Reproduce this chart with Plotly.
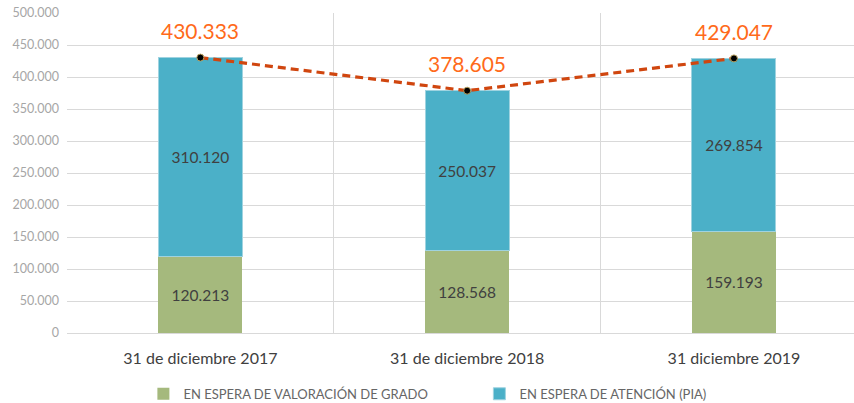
import plotly.graph_objects as go

categories = ["31 de diciembre 2017", "31 de diciembre 2018", "31 diciembre 2019"]
valoracion = [120213, 128568, 159193]
atencion = [310120, 250037, 269854]
totales = [430333, 378605, 429047]
total_labels = ["430.333", "378.605", "429.047"]
y_ticks = [0, 50000, 100000, 150000, 200000, 250000, 300000, 350000, 400000, 450000, 500000]

FONT = "Lato"

fig = go.Figure()
fig.add_trace(go.Bar(
    x=categories, y=valoracion, name="EN ESPERA DE VALORACIÓN DE GRADO",
    marker=dict(color="#A5B97D", line=dict(width=0)), width=0.315,
    texttemplate="%{y:,d}", textposition="inside", insidetextanchor="middle",
    textfont=dict(family=FONT, size=15.5, color="#404040"),
))
fig.add_trace(go.Bar(
    x=categories, y=atencion, name="EN ESPERA DE ATENCIÓN (PIA)",
    marker=dict(color="#4BB0C8", line=dict(width=1, color="#9fd3e0")), width=0.315,
    texttemplate="%{y:,d}", textposition="inside", insidetextanchor="middle",
    textfont=dict(family=FONT, size=15.5, color="#404040"),
))
fig.add_trace(go.Scatter(
    x=categories, y=totales, mode="lines+markers", showlegend=False,
    line=dict(color="#D0460F", width=3.2, dash="8px,5px"),
    marker=dict(color="black", size=7, line=dict(color="#b8a060", width=1)),
))
for c, t, lab in zip(categories, totales, total_labels):
    fig.add_annotation(x=c, y=t, text=lab, showarrow=False, yshift=27,
                       font=dict(family=FONT, size=21, color="#FF6A1A"))

fig.update_layout(
    barmode="stack",
    width=854, height=403,
    margin=dict(l=67, r=0, t=13, b=70, autoexpand=False),
    paper_bgcolor="white", plot_bgcolor="white",
    separators=",.",
    font=dict(family=FONT, color="#404040"),
    legend=dict(orientation="h", x=0.524, xanchor="center", y=-0.19, yanchor="middle",
                font=dict(family=FONT, size=13, color="#666666"), traceorder="normal",
                entrywidth=291),
    xaxis=dict(range=[-0.5, 2.45], tickson="boundaries", showgrid=True, automargin=False,
               gridcolor="#d9d9d9", gridwidth=1, ticks="", showline=True,
               linecolor="#d9d9d9", ticklabelstandoff=11,
               tickfont=dict(family=FONT, size=16, color="#404040")),
    yaxis=dict(range=[0, 500000], tickvals=y_ticks, tickformat=",d", automargin=False,
               gridcolor="#d9d9d9", gridwidth=1, zeroline=False,
               tickfont=dict(family=FONT, size=12.5, color="#a6a6a6"), ticklabelstandoff=7),
)

fig.write_html("out.html", post_script="document.body.style.margin='0';",
               config={"displayModeBar": False})
